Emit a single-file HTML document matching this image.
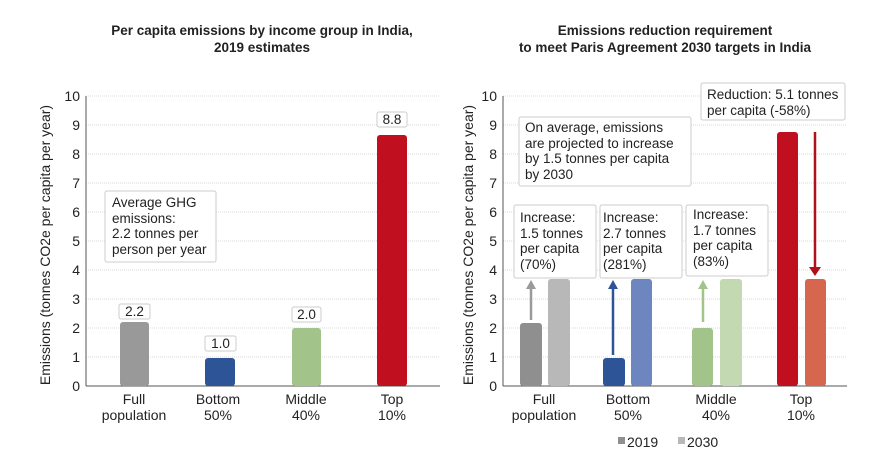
<!DOCTYPE html>
<html><head><meta charset="utf-8"><style>
body{margin:0;background:#fff;}
svg text{font-family:"Liberation Sans",sans-serif;fill:#222;}
</style></head><body>
<svg width="879" height="459" viewBox="0 0 879 459" xmlns="http://www.w3.org/2000/svg">
<g font-size="13.5" text-anchor="middle" font-weight="bold" style="font-weight:600">
<text x="262" y="35" fill="#333">Per capita emissions by income group in India,</text>
<text x="262" y="52" fill="#333">2019 estimates</text>
<text x="665" y="35" fill="#333">Emissions reduction requirement</text>
<text x="665" y="52" fill="#333">to meet Paris Agreement 2030 targets in India</text>
</g>
<g stroke="#d8d8d8" stroke-dasharray="1 1" stroke-width="1">
<line x1="86" x2="440" y1="96" y2="96"/><line x1="86" x2="440" y1="125" y2="125"/><line x1="86" x2="440" y1="154" y2="154"/><line x1="86" x2="440" y1="183" y2="183"/><line x1="86" x2="440" y1="212" y2="212"/><line x1="86" x2="440" y1="241" y2="241"/><line x1="86" x2="440" y1="270" y2="270"/><line x1="86" x2="440" y1="299" y2="299"/><line x1="86" x2="440" y1="328" y2="328"/><line x1="86" x2="440" y1="357" y2="357"/>
<line x1="503" x2="847" y1="96" y2="96"/><line x1="503" x2="847" y1="125" y2="125"/><line x1="503" x2="847" y1="154" y2="154"/><line x1="503" x2="847" y1="183" y2="183"/><line x1="503" x2="847" y1="212" y2="212"/><line x1="503" x2="847" y1="241" y2="241"/><line x1="503" x2="847" y1="270" y2="270"/><line x1="503" x2="847" y1="299" y2="299"/><line x1="503" x2="847" y1="328" y2="328"/><line x1="503" x2="847" y1="357" y2="357"/>
</g>
<g stroke="#555" stroke-width="1">
<line x1="86" y1="96" x2="86" y2="386"/><line x1="86" y1="386" x2="440" y2="386"/>
<line x1="503" y1="96" x2="503" y2="386"/><line x1="503" y1="386" x2="847" y2="386"/>
</g>
<g font-size="14" text-anchor="end" fill="#333">
<text x="80" y="101">10</text><text x="80" y="130">9</text><text x="80" y="159">8</text><text x="80" y="188">7</text><text x="80" y="217">6</text><text x="80" y="246">5</text><text x="80" y="275">4</text><text x="80" y="304">3</text><text x="80" y="333">2</text><text x="80" y="362">1</text><text x="80" y="391">0</text>
<text x="497" y="101">10</text><text x="497" y="130">9</text><text x="497" y="159">8</text><text x="497" y="188">7</text><text x="497" y="217">6</text><text x="497" y="246">5</text><text x="497" y="275">4</text><text x="497" y="304">3</text><text x="497" y="333">2</text><text x="497" y="362">1</text><text x="497" y="391">0</text>
</g>
<g font-size="14" text-anchor="middle">
<text transform="translate(50,245) rotate(-90)">Emissions (tonnes CO2e per capita per year)</text>
<text transform="translate(473,245) rotate(-90)">Emissions (tonnes CO2e per capita per year)</text>
</g>
<rect x="120" y="322" width="29" height="64" rx="3" fill="#999"/>
<rect x="205" y="358" width="30" height="28" rx="3" fill="#2d5496"/>
<rect x="292" y="328" width="29" height="58" rx="3" fill="#a2c48a"/>
<rect x="377" y="135" width="30" height="251" rx="3" fill="#c00f1f"/>
<g fill="#fff" stroke="#ccc" stroke-width="1">
<rect x="119" y="304" width="31" height="15" rx="2"/>
<rect x="205" y="336" width="31" height="15" rx="2"/>
<rect x="292" y="307" width="29" height="15" rx="2"/>
<rect x="377" y="112" width="30" height="15" rx="2"/>
<rect x="105" y="191" width="111" height="71" rx="2"/>
</g>
<g font-size="13.5">
<text x="134.5" y="316" text-anchor="middle">2.2</text>
<text x="220.5" y="348" text-anchor="middle">1.0</text>
<text x="306.5" y="319" text-anchor="middle">2.0</text>
<text x="392" y="124" text-anchor="middle">8.8</text>
<text x="112" y="207">Average GHG</text>
<text x="112" y="223">emissions:</text>
<text x="112" y="238">2.2 tonnes per</text>
<text x="112" y="254">person per year</text>
</g>
<g font-size="14" text-anchor="middle">
<text x="134" y="404">Full</text><text x="134" y="420">population</text>
<text x="218" y="404">Bottom</text><text x="218" y="420">50%</text>
<text x="306" y="404">Middle</text><text x="306" y="420">40%</text>
<text x="392" y="404">Top</text><text x="392" y="420">10%</text>
<text x="544" y="404">Full</text><text x="544" y="420">population</text>
<text x="628" y="404">Bottom</text><text x="628" y="420">50%</text>
<text x="716" y="404">Middle</text><text x="716" y="420">40%</text>
<text x="801" y="404">Top</text><text x="801" y="420">10%</text>
</g>
<rect x="520" y="323" width="22" height="63" rx="3" fill="#8f8f8f"/>
<rect x="548" y="279" width="22" height="107" rx="3" fill="#b8b8b8"/>
<rect x="603" y="358" width="22" height="28" rx="3" fill="#2d5496"/>
<rect x="631" y="279" width="21" height="107" rx="3" fill="#6e86bf"/>
<rect x="692" y="328" width="21" height="58" rx="3" fill="#a2c48a"/>
<rect x="720" y="279" width="22" height="107" rx="3" fill="#c3d9b1"/>
<rect x="777" y="132" width="21" height="254" rx="3" fill="#c00f1f"/>
<rect x="805" y="279" width="21" height="107" rx="3" fill="#d6674e"/>
<line x1="531" y1="320" x2="531" y2="288" stroke="#9a9a9a" stroke-width="2.5"/><path d="M526,289 L531,280 L536,289 z" fill="#9a9a9a"/>
<line x1="613" y1="355" x2="613" y2="288" stroke="#2d5496" stroke-width="2.5"/><path d="M608,289 L613,280 L618,289 z" fill="#2d5496"/>
<line x1="703" y1="322" x2="703" y2="288" stroke="#a2c48a" stroke-width="2.5"/><path d="M698,289 L703,280 L708,289 z" fill="#a2c48a"/>
<line x1="815" y1="132" x2="815" y2="268" stroke="#b0101c" stroke-width="2.5"/><path d="M809,267 L815,276 L821,267 z" fill="#b0101c"/>
<g fill="#fff" stroke="#ccc" stroke-width="1">
<rect x="519" y="117" width="172" height="69" rx="2"/>
<rect x="514" y="205" width="82" height="73" rx="2"/>
<rect x="600" y="205" width="82" height="73" rx="2"/>
<rect x="686" y="205" width="82" height="71" rx="2"/>
<rect x="701" y="83" width="144" height="37" rx="2"/>
</g>
<g font-size="13.5">
<text x="525" y="132">On average, emissions</text>
<text x="525" y="148">are projected to increase</text>
<text x="525" y="163">by 1.5 tonnes per capita</text>
<text x="525" y="179">by 2030</text>
<text x="707" y="99" fill="#444">Reduction: 5.1 tonnes</text>
<text x="707" y="115" fill="#444">per capita (-58%)</text>
</g>
<g font-size="13.5">
<text x="520" y="222" fill="#555">Increase:</text><text x="520" y="238" fill="#555">1.5 tonnes</text><text x="520" y="253" fill="#555">per capita</text><text x="520" y="269" fill="#555">(70%)</text>
<text x="603" y="222" fill="#555">Increase:</text><text x="603" y="238" fill="#555">2.7 tonnes</text><text x="603" y="253" fill="#555">per capita</text><text x="603" y="269" fill="#555">(281%)</text>
<text x="693" y="219" fill="#555">Increase:</text><text x="693" y="235" fill="#555">1.7 tonnes</text><text x="693" y="250" fill="#555">per capita</text><text x="693" y="266" fill="#555">(83%)</text>
</g>
<rect x="618" y="437" width="7" height="7" fill="#8f8f8f"/>
<text x="627" y="447" font-size="14">2019</text>
<rect x="678" y="437" width="7" height="7" fill="#b8b8b8"/>
<text x="687" y="447" font-size="14">2030</text>
</svg>
</body></html>
